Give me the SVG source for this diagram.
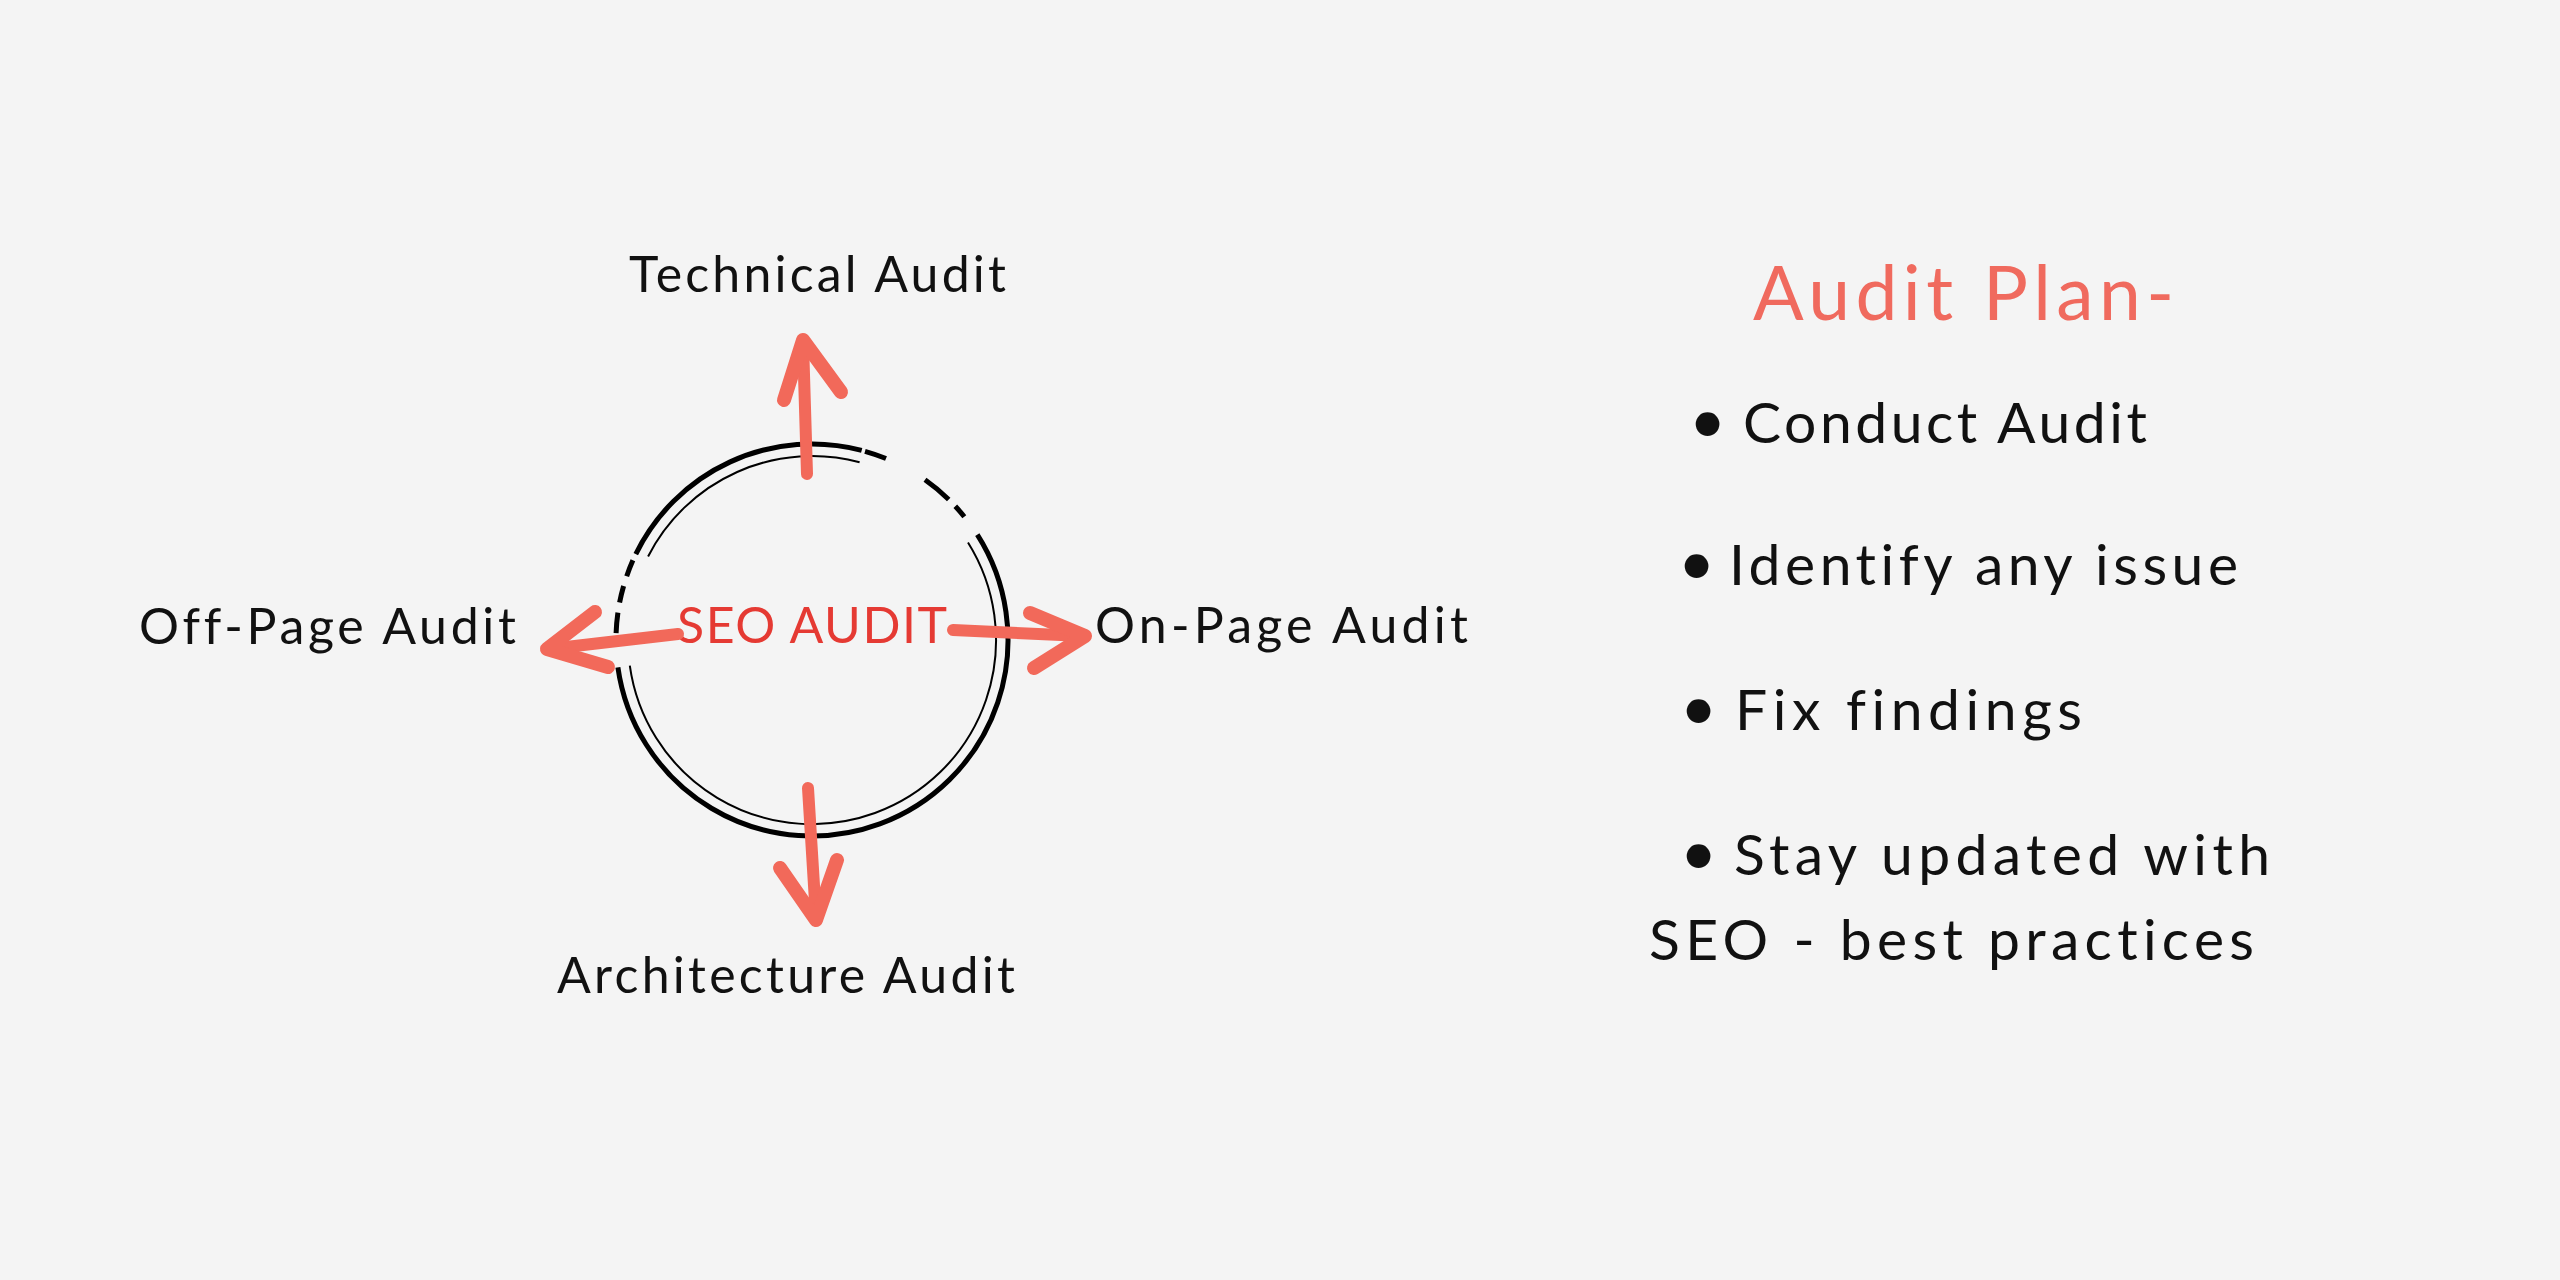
<svg xmlns="http://www.w3.org/2000/svg" width="2560" height="1280" viewBox="0 0 2560 1280">
<style>
.bg{fill:#f4f4f4}
text{font-family:"Lato","Noto Sans","Liberation Sans",sans-serif;font-weight:400;font-variant-ligatures:none}
.lbl{font-size:50px;fill:#111}
.red{font-size:50px;fill:#e53a33}
.title{font-size:75px;fill:#f06a5e}
.item{font-size:57px;fill:#111}
.bul{font-size:64px}
.thick{fill:none;stroke:#000;stroke-width:5}
.thin{fill:none;stroke:#000;stroke-width:2}
.arrow{fill:none;stroke:#f2695a;stroke-width:12;stroke-linecap:round;stroke-linejoin:round}
.head{fill:none;stroke:#f2695a;stroke-width:14;stroke-linecap:round;stroke-linejoin:round}
</style>
<rect class="bg" x="0" y="0" width="2560" height="1280"/>
<g id="seo-audit">
<path class="thick" d="M977.3,534.7 A196,196 0 1 1 617.9,667.3"/>
<path class="thick" d="M635.8,554.1 A196,196 0 0 1 861.7,450.4"/>
<path class="thick" d="M616.1,633.2 A196,196 0 0 1 617.9,612.7"/>
<path class="thick" d="M619.6,602.6 A196,196 0 0 1 623.6,586.0"/>
<path class="thick" d="M626.7,576.2 A196,196 0 0 1 632.9,560.3"/>
<path class="thick" d="M865.0,451.3 A196,196 0 0 1 886.0,458.5"/>
<path class="thick" d="M925.0,479.8 A196,196 0 0 1 948.7,499.5"/>
<path class="thick" d="M955.3,506.3 A196,196 0 0 1 964.3,516.7"/>
<path class="thin" d="M968.0,542.5 A184,184 0 1 1 629.8,665.6"/>
<path class="thin" d="M648.1,556.5 A184,184 0 0 1 859.6,462.3"/>
<text class="red" x="677" y="643" textLength="270" lengthAdjust="spacing">SEO AUDIT</text>
</g>
<g id="technical-audit"><text class="lbl" x="629" y="292" textLength="377" lengthAdjust="spacing">Technical Audit</text></g>
<g id="off-page-audit"><text class="lbl" x="139" y="644" textLength="377" lengthAdjust="spacing">Off-Page Audit</text></g>
<g id="on-page-audit"><text class="lbl" x="1095" y="643" textLength="373" lengthAdjust="spacing">On-Page Audit</text></g>
<g id="architecture-audit"><text class="lbl" x="557" y="993" textLength="458" lengthAdjust="spacing">Architecture Audit</text></g>
<g id="connectors">
<path class="arrow" d="M807,474 L803,342"/>
<path class="head" d="M784,400 L803,340 L841,392"/>
<path class="arrow" d="M953,630 L1083,636"/>
<path class="head" d="M1030,613 L1085,636 L1034,668"/>
<path class="arrow" d="M678,634 L549,649"/>
<path class="head" d="M595,612 L547,649 L608,667"/>
<path class="arrow" d="M808,788 L816,918"/>
<path class="head" d="M780,868 L816,920 L837,860"/>
</g>
<g id="audit-plan">
<text class="title" x="1753" y="320" textLength="421" lengthAdjust="spacing">Audit Plan-</text>
<text class="item" y="443"><tspan class="bul" x="1689">•</tspan> <tspan x="1743" textLength="404" lengthAdjust="spacing">Conduct Audit</tspan></text>
<text class="item" y="585"><tspan class="bul" x="1678">•</tspan> <tspan x="1729" textLength="509" lengthAdjust="spacing">Identify any issue</tspan></text>
<text class="item" y="730"><tspan class="bul" x="1680">•</tspan> <tspan x="1735" textLength="347" lengthAdjust="spacing">Fix findings</tspan></text>
<text class="item" y="875"><tspan class="bul" x="1680">•</tspan> <tspan x="1734" textLength="536" lengthAdjust="spacing">Stay updated with</tspan></text>
<text class="item" x="1649" y="960" textLength="605" lengthAdjust="spacing">SEO - best practices</text>
</g>
</svg>
